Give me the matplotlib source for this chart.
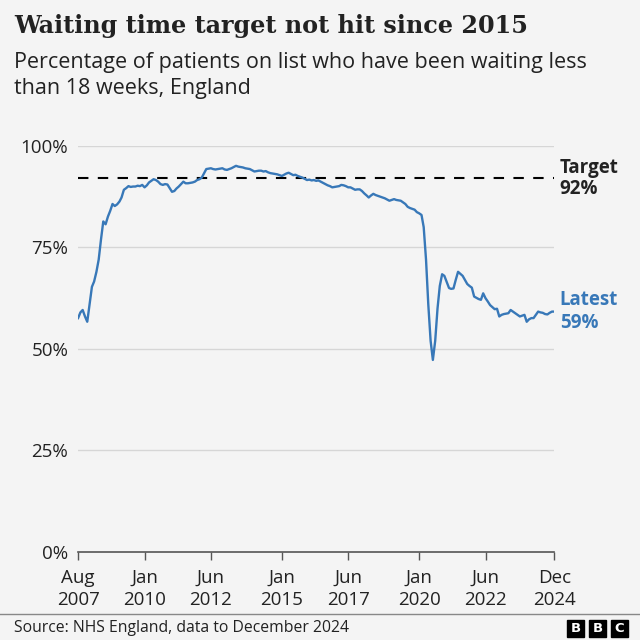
import matplotlib
matplotlib.use("Agg")
import matplotlib.pyplot as plt
import matplotlib.patches as patches
import pandas as pd

# Monthly share of patients waiting under 18 weeks, Aug 2007 - Dec 2024
start_month = "2007-08-01"
pct_2007 = [57.6, 59.0, 59.6, 58.0, 56.7]
pct_2008 = [61.0, 65.3, 66.6, 69.0, 72.0, 77.0, 81.4, 80.7, 82.6, 84.0, 85.7, 85.2]
pct_2009 = [85.6, 86.3, 87.3, 89.2, 89.6, 90.1, 89.9, 90.0, 90.0, 90.2, 90.1, 90.4]
pct_2010 = [89.8, 90.3, 91.0, 91.4, 91.8, 91.6, 91.2, 90.6, 90.4, 90.6, 90.5, 89.6]
pct_2011 = [88.7, 88.9, 89.5, 90.0, 90.6, 91.2, 90.8, 90.8, 90.9, 91.0, 91.2, 91.6]
pct_2012 = [91.8, 92.2, 93.2, 94.3, 94.4, 94.5, 94.3, 94.2, 94.3, 94.4, 94.5, 94.2]
pct_2013 = [94.1, 94.3, 94.5, 94.8, 95.1, 94.9, 94.8, 94.7, 94.5, 94.4, 94.3, 94.0]
pct_2014 = [93.7, 93.8, 93.9, 93.9, 93.7, 93.8, 93.5, 93.3, 93.2, 93.1, 93.0, 92.8]
pct_2015 = [92.6, 92.9, 93.2, 93.4, 93.1, 92.8, 92.9, 92.6, 92.4, 92.2, 91.9, 91.6]
pct_2016 = [91.7, 91.5, 91.6, 91.4, 91.5, 91.2, 90.9, 90.6, 90.3, 90.1, 89.8, 89.9]
pct_2017 = [90.0, 90.1, 90.4, 90.3, 90.1, 89.8, 89.8, 89.5, 89.2, 89.3, 89.3, 88.9]
pct_2018 = [88.3, 87.8, 87.3, 87.8, 88.2, 87.9, 87.7, 87.5, 87.3, 87.1, 86.8, 86.5]
pct_2019 = [86.7, 86.9, 86.7, 86.6, 86.5, 86.1, 85.7, 85.0, 84.7, 84.5, 84.3, 83.7]
pct_2020 = [83.4, 83.0, 80.0, 72.0, 61.0, 52.0, 47.3, 52.0, 60.0, 65.5, 68.4, 68.0]
pct_2021 = [66.5, 65.0, 64.8, 64.9, 67.0, 69.0, 68.5, 68.0, 67.0, 66.0, 65.5, 65.1]
pct_2022 = [62.9, 62.6, 62.3, 62.1, 63.7, 62.5, 61.7, 60.8, 60.3, 59.8, 59.9, 58.0]
pct_2023 = [58.4, 58.6, 58.7, 58.8, 59.6, 59.2, 58.8, 58.4, 58.0, 58.2, 58.4, 56.7]
pct_2024 = [57.3, 57.6, 57.6, 58.4, 59.2, 59.0, 58.9, 58.6, 58.5, 58.9, 59.2, 59.2]

target = 92
y_ticks = [0, 25, 50, 75, 100]
x_tick_dates = ["2007-08-01", "2010-01-01", "2012-06-01", "2015-01-01",
                "2017-06-01", "2020-01-01", "2022-06-01", "2024-12-01"]
x_tick_labels = ["Aug\n2007", "Jan\n2010", "Jun\n2012", "Jan\n2015",
                 "Jun\n2017", "Jan\n2020", "Jun\n2022", "Dec\n2024"]

BG = "#f4f4f4"
BLUE = "#3878b8"
DARK = "#222222"


def main():
    values = (pct_2007 + pct_2008 + pct_2009 + pct_2010 + pct_2011 + pct_2012
              + pct_2013 + pct_2014 + pct_2015 + pct_2016 + pct_2017 + pct_2018
              + pct_2019 + pct_2020 + pct_2021 + pct_2022 + pct_2023 + pct_2024)
    months = pd.date_range(start_month, periods=len(values), freq="MS")

    fig = plt.figure(figsize=(6.4, 6.4), dpi=100, facecolor=BG)
    ax = fig.add_axes([0.122, 0.1375, 0.744, 0.6345], facecolor=BG)

    # grid lines first, then target and series
    for t in y_ticks[1:]:
        ax.axhline(t, color="#d6d6d6", lw=1, zorder=1)
    ax.plot([months[0], months[-1]], [target, target], color="black", lw=1.5,
            dashes=(5, 4.5), zorder=2)
    ax.plot(months, values, color=BLUE, lw=1.7, zorder=3, solid_joinstyle="round")

    ax.set_xlim(months[0], months[-1])
    ax.set_ylim(0, 100)

    ax.set_yticks(y_ticks)
    ax.set_yticklabels([f"{t}%" for t in y_ticks], fontsize=13.5, color=DARK,
                       family="Open Sans")
    ax.tick_params(axis="y", length=0, pad=7)

    ax.set_xticks(pd.to_datetime(x_tick_dates))
    ax.set_xticklabels(x_tick_labels, fontsize=13.5, color=DARK, family="Open Sans",
                       linespacing=1.3)
    ax.tick_params(axis="x", length=6, width=1, color="#555555", pad=6)

    for side in ["top", "right", "left"]:
        ax.spines[side].set_visible(False)
    ax.spines["bottom"].set_color("#555555")
    ax.spines["bottom"].set_linewidth(1.2)

    # end labels
    ax.annotate("Target\n92%", xy=(1.0, target), xycoords=("axes fraction", "data"),
                xytext=(4, 0), textcoords="offset points", va="center", ha="left",
                fontsize=13.5, fontweight="bold", color=DARK, family="Open Sans",
                linespacing=1.1, annotation_clip=False)
    ax.annotate("Latest\n59%", xy=(1.0, values[-1]), xycoords=("axes fraction", "data"),
                xytext=(4, 0), textcoords="offset points", va="center", ha="left",
                fontsize=13.5, fontweight="bold", color=BLUE, family="Open Sans",
                linespacing=1.15, annotation_clip=False)

    # title and subtitle
    fig.text(0.022, 0.960, "Waiting time target not hit since 2015", fontsize=17.2,
             fontweight="bold", family="DejaVu Serif", color=DARK, va="center")
    fig.text(0.022, 0.882, "Percentage of patients on list who have been waiting less\n"
             "than 18 weeks, England", fontsize=15.5, family="Open Sans", color=DARK,
             va="center", linespacing=1.3)

    # footer
    fig.add_artist(plt.Line2D([0, 1], [0.041, 0.041], transform=fig.transFigure,
                              color="#888888", lw=1))
    fig.text(0.022, 0.018, "Source: NHS England, data to December 2024", fontsize=11.3,
             family="Open Sans", color=DARK, va="center")
    for i, letter in enumerate("BBC"):
        x0 = 567 + i * 22
        fig.add_artist(patches.Rectangle((x0 / 640, 3 / 640), 17 / 640, 17 / 640,
                                         transform=fig.transFigure, color="black"))
        fig.text((x0 + 8.5) / 640, 11.5 / 640, letter, fontsize=9.5, fontweight="bold",
                 color="white", ha="center", va="center", family="DejaVu Sans")

    fig.savefig("out.png", dpi=100, facecolor=BG)


if __name__ == "__main__":
    main()
